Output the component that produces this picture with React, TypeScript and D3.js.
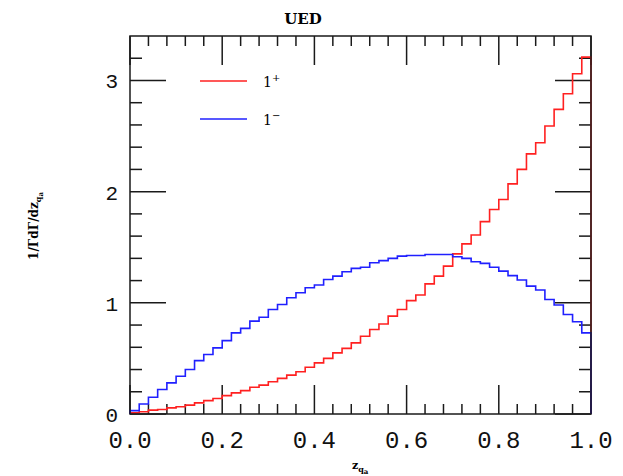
import { scaleLinear, line, curveStepAfter, range } from "d3";

// histogram contents, 50 bins of width 0.02 on z in [0, 1]
const binWidth = 0.02;
const plusValues = [
  0.01, 0.02, 0.035, 0.04, 0.055, 0.065, 0.08, 0.1, 0.12, 0.14,
  0.165, 0.19, 0.21, 0.24, 0.26, 0.29, 0.32, 0.35, 0.38, 0.42,
  0.46, 0.5, 0.55, 0.59, 0.64, 0.7, 0.76, 0.81, 0.88, 0.94,
  1.02, 1.07, 1.17, 1.24, 1.33, 1.44, 1.53, 1.61, 1.73, 1.84,
  1.93, 2.07, 2.2, 2.34, 2.44, 2.59, 2.74, 2.88, 3.06, 3.21,
];
const minusValues = [
  0.03, 0.09, 0.15, 0.22, 0.28, 0.34, 0.4, 0.48, 0.535, 0.595,
  0.66, 0.73, 0.77, 0.835, 0.87, 0.94, 0.985, 1.045, 1.09, 1.135,
  1.16, 1.21, 1.24, 1.28, 1.31, 1.32, 1.36, 1.38, 1.4, 1.42,
  1.425, 1.425, 1.435, 1.435, 1.435, 1.415, 1.4, 1.37, 1.355, 1.32,
  1.285, 1.245, 1.205, 1.15, 1.115, 1.03, 0.98, 0.895, 0.83, 0.73,
];
const xTickLabels = ["0.0", "0.2", "0.4", "0.6", "0.8", "1.0"];
const yTickLabels = ["0", "1", "2", "3"];

const width = 623;
const height = 476;
const margin = { top: 36, right: 32, bottom: 62, left: 130 };
const plotW = width - margin.left - margin.right;
const plotH = height - margin.top - margin.bottom;

const frameColor = "#1a1a1a";
const numFont = "Liberation Mono, DejaVu Sans Mono, monospace";
const textFont = "DejaVu Serif, Liberation Serif, serif";

export default function App() {
  const x = scaleLinear().domain([0, 1]).range([0, plotW]);
  const y = scaleLinear().domain([0, 3.4]).range([plotH, 0]);

  const stepLine = line<[number, number]>()
    .x((d) => x(d[0]))
    .y((d) => y(d[1]))
    .curve(curveStepAfter);

  const histPoints = (vals: number[]): [number, number][] => {
    const pts: [number, number][] = [[0, 0]];
    vals.forEach((v, i) => pts.push([i * binWidth, v]));
    pts.push([1, vals[vals.length - 1]]);
    pts.push([1, 0]);
    return pts;
  };

  const xMinor = range(0, 1.0001, 0.04);
  const yMinor = range(0, 3.3, 0.2);

  return (
    <svg
      width={width}
      height={height}
      style={{ position: "absolute", left: 0, top: 0, background: "#fff" }}
    >
      <text
        x={303}
        y={24}
        textAnchor="middle"
        fontFamily={textFont}
        fontWeight="bold"
        fontSize={15}
      >
        UED
      </text>

      <g transform={`translate(${margin.left},${margin.top})`}>
        {/* ticks on all four sides */}
        <g stroke={frameColor} strokeWidth={1.5}>
          {xMinor.map((t, i) => {
            const major = i % 5 === 0;
            const len = major ? 29 : 10;
            return (
              <g key={"xt" + i}>
                <line x1={x(t)} x2={x(t)} y1={plotH} y2={plotH - len} />
                <line x1={x(t)} x2={x(t)} y1={0} y2={len} />
              </g>
            );
          })}
          {yMinor.map((t, i) => {
            const major = i % 5 === 0;
            const len = major ? 36 : 12;
            return (
              <g key={"yt" + i}>
                <line x1={0} x2={len} y1={y(t)} y2={y(t)} />
                <line x1={plotW} x2={plotW - len} y1={y(t)} y2={y(t)} />
              </g>
            );
          })}
        </g>

        {/* histograms */}
        <path
          d={stepLine(histPoints(plusValues)) ?? ""}
          fill="none"
          stroke="#ff2020"
          strokeWidth={1.6}
        />
        <path
          d={stepLine(histPoints(minusValues)) ?? ""}
          fill="none"
          stroke="#2020ff"
          strokeWidth={1.6}
        />

        <rect
          x={0}
          y={0}
          width={plotW}
          height={plotH}
          fill="none"
          stroke={frameColor}
          strokeWidth={1.5}
        />

        {/* legend */}
        <line x1={70} x2={117} y1={45} y2={45} stroke="#ff2020" strokeWidth={1.6} />
        <text x={133} y={51} fontFamily={textFont} fontSize={14}>
          1<tspan dy={-6} fontSize={10}>+</tspan>
        </text>
        <line x1={70} x2={117} y1={83} y2={83} stroke="#2020ff" strokeWidth={1.6} />
        <text x={133} y={89} fontFamily={textFont} fontSize={14}>
          1<tspan dy={-6} fontSize={10}>−</tspan>
        </text>

        {/* tick labels */}
        {xTickLabels.map((lab, i) => (
          <text
            key={"xl" + lab}
            x={x(i * 0.2)}
            y={plotH + 34}
            textAnchor="middle"
            fontFamily={numFont}
            fontSize={24}
            fill="#111"
          >
            {lab}
          </text>
        ))}
        {yTickLabels.map((lab, i) => (
          <text
            key={"yl" + lab}
            x={-12}
            y={y(i) + 8}
            textAnchor="end"
            fontFamily={numFont}
            fontSize={21}
            fill="#111"
          >
            {lab}
          </text>
        ))}
      </g>

      {/* axis titles */}
      <text
        x={352}
        y={469}
        fontFamily={textFont}
        fontWeight="bold"
        fontSize={11}
      >
        z
        <tspan dy={3} fontSize={8}>q</tspan>
        <tspan dy={2} fontSize={7}>a</tspan>
      </text>
      <text
        transform="translate(38,226) rotate(-90)"
        textAnchor="middle"
        fontFamily={textFont}
        fontWeight="bold"
        fontSize={12}
      >
        1/ΓdΓ/dz
        <tspan dy={3} fontSize={8}>q</tspan>
        <tspan dy={2} fontSize={7}>a</tspan>
      </text>
    </svg>
  );
}
